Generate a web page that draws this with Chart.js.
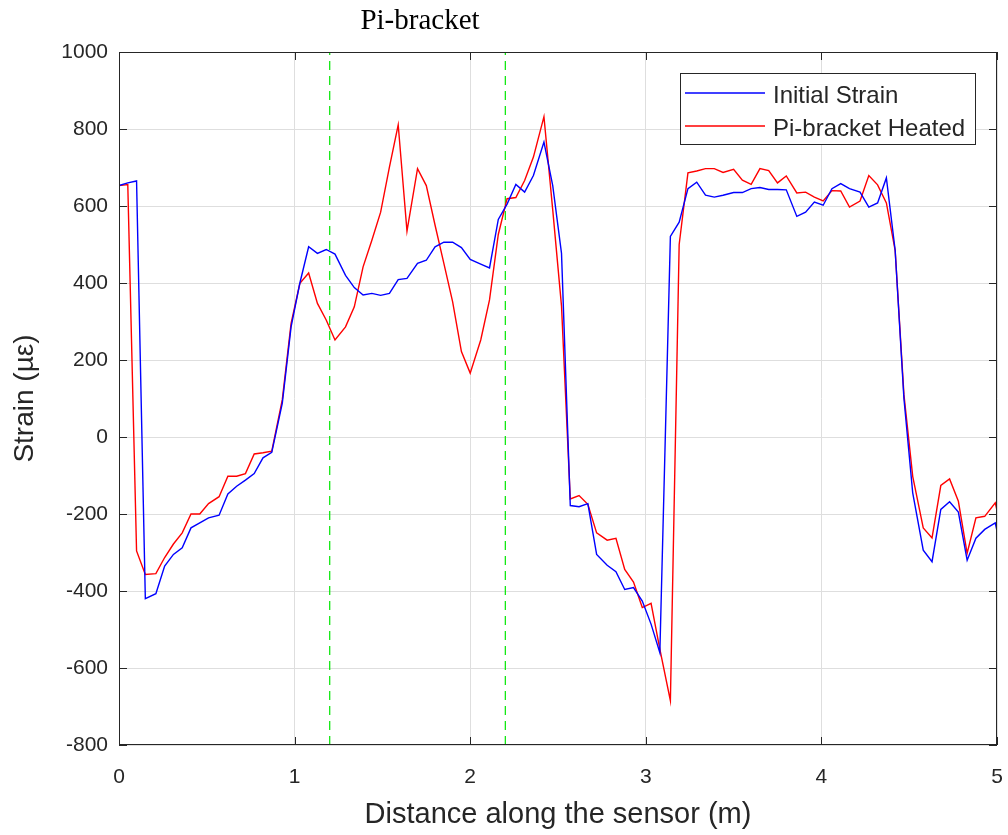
<!DOCTYPE html>
<html>
<head>
<meta charset="utf-8">
<script src="https://cdn.jsdelivr.net/npm/chart.js@4"></script>
<style>
    html, body { margin: 0; padding: 0; background: #fff; }
    .chartBox { width: 1008px; height: 835px; position: relative; }
</style>
</head>
<body>
<div class="chartBox"><canvas id="strainChart"></canvas></div>
<script>
// distance along the sensor (m)
const distance = [
    0.00, 0.05, 0.10, 0.15, 0.21, 0.26, 0.31, 0.36, 0.41, 0.46,
    0.51, 0.57, 0.62, 0.67, 0.72, 0.77, 0.82, 0.87, 0.93, 0.98,
    1.03, 1.08, 1.13, 1.18, 1.23, 1.29, 1.34, 1.39, 1.44, 1.49,
    1.54, 1.59, 1.64, 1.70, 1.75, 1.80, 1.85, 1.90, 1.95, 2.00,
    2.06, 2.11, 2.16, 2.21, 2.26, 2.31, 2.36, 2.42, 2.47, 2.52,
    2.57, 2.62, 2.67, 2.72, 2.78, 2.83, 2.88, 2.93, 2.98, 3.03,
    3.08, 3.14, 3.19, 3.24, 3.29, 3.34, 3.39, 3.44, 3.50, 3.55,
    3.60, 3.65, 3.70, 3.75, 3.80, 3.86, 3.91, 3.96, 4.01, 4.06,
    4.11, 4.16, 4.22, 4.27, 4.32, 4.37, 4.42, 4.47, 4.52, 4.58,
    4.63, 4.68, 4.73, 4.78, 4.83, 4.88, 4.93, 4.99, 5.04
];

const initialStrain = [
    653, 660, 665, -420, -407, -335, -305, -288, -236, -223,
    -210, -203, -148, -128, -112, -95, -54, -40, 88, 286,
    400, 494, 477, 487, 475, 420, 388, 369, 373, 368,
    373, 409, 412, 451, 459, 494, 506, 506, 492, 461,
    449, 439, 565, 605, 656, 636, 679, 766, 653, 477,
    -178, -181, -173, -305, -333, -350, -396, -391, -426, -486,
    -560, 521, 558, 645, 662, 628, 623, 628, 635, 635,
    645, 648, 643, 643, 642, 573, 584, 610, 602, 645,
    658, 645, 636, 597, 608, 673, 485, 100, -145, -294,
    -324, -188, -168, -195, -320, -263, -240, -223, -330
];

const heatedStrain = [
    653, 656, -296, -357, -355, -313, -278, -249, -200, -200,
    -173, -155, -102, -102, -95, -44, -41, -37, 97, 295,
    399, 426, 347, 304, 252, 286, 338, 442, 511, 584,
    701, 811, 535, 697, 653, 550, 451, 351, 222, 166,
    252, 356, 526, 619, 622, 666, 727, 832, 590, 340,
    -161, -152, -175, -249, -268, -263, -344, -377, -443, -432,
    -551, -685, 500, 686, 691, 697, 697, 687, 695, 667,
    656, 697, 692, 660, 678, 634, 636, 623, 613, 640,
    639, 597, 613, 679, 655, 608, 485, 110, -102, -236,
    -262, -126, -109, -167, -302, -210, -206, -171, -270
];

const bracketEdges = [1.2, 2.2];
const xRange = [0, 5];
const yRange = [-800, 1000];
const seriesLabels = ['Initial Strain', 'Pi-bracket Heated'];

const sansFont = '"Liberation Sans", Arial, Helvetica, sans-serif';
const axisColor = '#262626';

const toPoints = (values) => distance.map((d, i) => ({ x: d, y: values[i] }));

const edgeDatasets = bracketEdges.map(edge => ({
    label: 'edge ' + edge,
    data: [{ x: edge, y: yRange[0] }, { x: edge, y: yRange[1] }],
    borderColor: '#00e600',
    borderWidth: 1.2,
    borderDash: [9, 6],
    pointRadius: 0,
    isEdge: true
}));

// matlab style frame + inward ticks, title and legend box
const framePlugin = {
    id: 'framePlugin',
    afterDraw(chart) {
        const { ctx, chartArea: a, scales: { x, y } } = chart;
        ctx.save();
        ctx.strokeStyle = axisColor;
        ctx.lineWidth = 1;
        ctx.strokeRect(a.left + 0.5, a.top + 0.5, a.right - a.left - 1, a.bottom - a.top - 1);
        ctx.beginPath();
        x.ticks.forEach(t => {
            const px = Math.round(x.getPixelForValue(t.value)) + 0.5;
            ctx.moveTo(px, a.bottom); ctx.lineTo(px, a.bottom - 8);
            ctx.moveTo(px, a.top); ctx.lineTo(px, a.top + 8);
        });
        y.ticks.forEach(t => {
            const py = Math.round(y.getPixelForValue(t.value)) + 0.5;
            ctx.moveTo(a.left, py); ctx.lineTo(a.left + 8, py);
            ctx.moveTo(a.right, py); ctx.lineTo(a.right - 8, py);
        });
        ctx.stroke();

        // title
        ctx.fillStyle = '#000';
        ctx.font = '29px "Liberation Serif", "Times New Roman", serif';
        ctx.textAlign = 'center';
        ctx.textBaseline = 'middle';
        ctx.fillText('Pi-bracket', 420, 21);

        // legend
        const lx = 680, ly = 73, lw = 295, lh = 71;
        ctx.fillStyle = '#fff';
        ctx.fillRect(lx, ly, lw, lh);
        ctx.strokeRect(lx + 0.5, ly + 0.5, lw, lh);
        ctx.font = '24px ' + sansFont;
        ctx.textAlign = 'left';
        chart.data.datasets.filter(ds => !ds.isEdge).forEach((ds, i) => {
            const rowY = ly + 20 + i * 33;
            ctx.strokeStyle = ds.borderColor;
            ctx.lineWidth = 1.3;
            ctx.beginPath();
            ctx.moveTo(lx + 5, rowY);
            ctx.lineTo(lx + 85, rowY);
            ctx.stroke();
            ctx.fillStyle = axisColor;
            ctx.fillText(ds.label, lx + 93, rowY + 3);
        });
        ctx.restore();
    }
};

const ctx = document.getElementById('strainChart').getContext('2d');
const strainChart = new Chart(ctx, {
    type: 'line',
    data: {
        datasets: [
            {
                label: seriesLabels[0],
                data: toPoints(initialStrain),
                borderColor: '#0000ff',
                borderWidth: 1.4,
                pointRadius: 0
            },
            {
                label: seriesLabels[1],
                data: toPoints(heatedStrain),
                borderColor: '#ff0000',
                borderWidth: 1.4,
                pointRadius: 0
            },
            ...edgeDatasets
        ]
    },
    options: {
        responsive: true,
        maintainAspectRatio: false,
        animation: false,
        layout: {
            padding: { left: 0, top: 52, right: 11, bottom: 0 }
        },
        scales: {
            x: {
                type: 'linear',
                min: xRange[0],
                max: xRange[1],
                ticks: {
                    stepSize: 1,
                    color: axisColor,
                    font: { family: sansFont, size: 21 },
                    padding: 20,
                    maxRotation: 0
                },
                grid: { color: '#dedede', drawTicks: false },
                border: { display: false },
                title: {
                    display: true,
                    text: 'Distance along the sensor (m)',
                    color: axisColor,
                    font: { family: sansFont, size: 29 },
                    padding: { top: 0, bottom: 3 }
                },
                afterFit: (scale) => {
                    scale.height = 90;
                    // tick padding would otherwise eat into the right edge
                    scale.paddingLeft = 0;
                    scale.paddingRight = 0;
                }
            },
            y: {
                min: yRange[0],
                max: yRange[1],
                ticks: {
                    stepSize: 200,
                    color: axisColor,
                    font: { family: sansFont, size: 21 },
                    padding: 11,
                    callback: (value) => String(value)
                },
                grid: { color: '#dedede', drawTicks: false },
                border: { display: false },
                title: {
                    display: true,
                    text: 'Strain (µε)',
                    color: axisColor,
                    font: { family: sansFont, size: 28 },
                    padding: { top: 8, bottom: 0 }
                },
                afterFit: (scale) => { scale.width = 119; }
            }
        },
        plugins: {
            legend: { display: false },
            tooltip: { enabled: false }
        }
    },
    plugins: [framePlugin]
});
</script>
</body>
</html>
